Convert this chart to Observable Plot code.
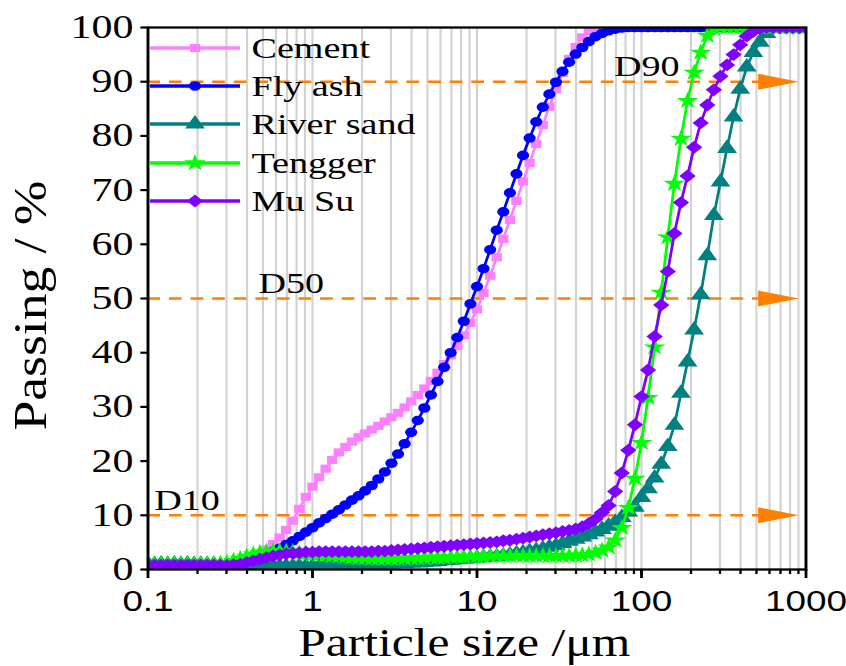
<!DOCTYPE html>
<html>
<head>
<meta charset="utf-8">
<script src="https://cdn.jsdelivr.net/npm/d3@7"></script>
<script src="https://cdn.jsdelivr.net/npm/@observablehq/plot@0.6"></script>
<style>
  html, body { margin: 0; padding: 0; background: #fff; }
  #chart svg { display: block; }
</style>
</head>
<body>
<div id="chart"></div>
<script>
// ---- data (particle size in µm, cumulative passing in %) ----
const sizes = [
  0.1, 0.1096, 0.1202, 0.1318, 0.1445, 0.1585, 0.1738, 0.1905, 0.2089, 0.2291,
  0.2512, 0.2754, 0.302, 0.3311, 0.3631, 0.3981, 0.4365, 0.4786, 0.5248, 0.5754,
  0.631, 0.6918, 0.7586, 0.8318, 0.912, 1, 1.096, 1.202, 1.318, 1.445,
  1.585, 1.738, 1.905, 2.089, 2.291, 2.512, 2.754, 3.02, 3.311, 3.631,
  3.981, 4.365, 4.786, 5.248, 5.754, 6.31, 6.918, 7.586, 8.318, 9.12,
  10, 10.96, 12.02, 13.18, 14.45, 15.85, 17.38, 19.05, 20.89, 22.91,
  25.12, 27.54, 30.2, 33.11, 36.31, 39.81, 43.65, 47.86, 52.48, 57.54,
  63.1, 69.18, 75.86, 83.18, 91.2, 100, 109.6, 120.2, 131.8, 144.5,
  158.5, 173.8, 190.5, 208.9, 229.1, 251.2, 275.4, 302, 331.1, 363.1,
  398.1, 436.5, 478.6, 524.8, 575.4, 631, 691.8, 758.6, 831.8, 912,
  1000
];

const cement = [
  null, null, null, null, null, null, null, null, null, null,
  null, null, null, 0.2, 0.6, 1.1, 1.9, 2.8, 3.7, 4.7,
  5.9, 7.3, 9.0, 11.2, 13.4, 15.3, 17.0, 18.6, 20.2, 21.6,
  22.6, 23.6, 24.4, 25.1, 25.8, 26.5, 27.3, 28.1, 28.9, 29.9,
  31.0, 32.2, 33.4, 34.8, 36.3, 37.9, 39.5, 41.2, 43.2, 45.5,
  48.0, 51.0, 54.2, 57.6, 61.0, 64.5, 68.0, 71.6, 75.0, 78.5,
  82.0, 85.4, 88.6, 91.6, 94.2, 96.4, 98.2, 99.3, 99.8, 100,
  100, 100, 100, 100, 100, 100, 100, 100, 100, 100,
  100, 100, 100, 100, 100, 100, 100, 100, 100, 100,
  100, 100, 100, 100, 100, 100, 100, 100, 100, 100,
  100
];

const flyAsh = [
  null, null, null, null, null, null, null, null, null, null,
  null, 0.1, 0.3, 0.6, 1.0, 1.4, 1.8, 2.3, 2.8, 3.3,
  3.9, 4.6, 5.3, 6.1, 6.9, 7.7, 8.6, 9.4, 10.2, 11.0,
  11.9, 12.8, 13.6, 14.5, 15.5, 16.7, 18.0, 19.6, 21.3, 23.2,
  25.3, 27.5, 29.8, 32.2, 34.7, 37.3, 40.0, 42.8, 45.8, 49.0,
  52.2, 55.5, 59.0, 62.6, 66.0, 69.5, 73.0, 76.4, 79.6, 82.6,
  85.3, 87.7, 89.9, 91.9, 93.6, 95.1, 96.3, 97.4, 98.3, 98.9,
  99.4, 99.7, 99.9, 100, 100, 100, 100, 100, 100, 100,
  100, 100, 100, 100, 100, 100, 100, 100, 100, 100,
  100, 100, 100, 100, 100, 100, 100, 100, 100, 100,
  100
];

const riverSand = [
  1.0, 0.9, 1.0, 0.9, 1.0, 0.9, 1.0, 0.9, 0.9, 0.9,
  0.9, 0.8, 0.8, 0.8, 0.7, 0.7, 0.6, 0.6, 0.6, 0.6,
  0.6, 0.6, 0.6, 0.6, 0.6, 0.6, 0.6, 0.7, 0.7, 0.7,
  0.8, 0.8, 0.8, 0.9, 0.9, 0.9, 1.0, 1.0, 1.1, 1.1,
  1.2, 1.2, 1.3, 1.4, 1.5, 1.6, 1.7, 1.8, 1.9, 2.0,
  2.1, 2.2, 2.3, 2.4, 2.5, 2.7, 2.9, 3.1, 3.3, 3.5,
  3.8, 4.1, 4.4, 4.8, 5.2, 5.6, 6.0, 6.4, 6.9, 7.4,
  8.0, 8.7, 9.6, 10.6, 11.5, 13.3, 14.9, 16.9, 19.4, 22.7,
  26.6, 32.5, 38.3, 44.2, 50.7, 57.9, 65.3, 71.5, 77.7, 83.5,
  88.6, 92.7, 95.4, 97.3, 98.9, 99.9, 100, 100, 100, 100,
  100
];

const tengger = [
  1.0, 1.0, 1.0, 1.0, 1.0, 1.0, 1.0, 1.0, 1.0, 1.0,
  1.0, 1.1, 1.3, 1.6, 2.0, 2.4, 2.8, 3.1, 3.3, 3.4,
  3.4, 3.3, 3.2, 3.0, 2.9, 2.8, 2.7, 2.6, 2.5, 2.4,
  2.3, 2.2, 2.1, 2.1, 2.0, 2.0, 2.0, 2.0, 2.0, 2.0,
  2.1, 2.1, 2.1, 2.2, 2.2, 2.2, 2.3, 2.3, 2.3, 2.4,
  2.4, 2.4, 2.5, 2.5, 2.5, 2.5, 2.5, 2.5, 2.5, 2.5,
  2.5, 2.5, 2.5, 2.5, 2.5, 2.6, 2.6, 2.8, 3.1, 3.5,
  4.1, 5.4, 7.7, 11.4, 16.8, 23.4, 31.7, 41.0, 51.1, 61.3,
  71.2, 79.5, 86.5, 91.7, 95.4, 98.5, 99.8, 100, 100, 100,
  100, 100, 100, 100, 100, 100, 100, 100, 100, 100,
  100
];

const muSu = [
  0.8, 0.8, 0.8, 0.8, 0.8, 0.8, 0.8, 0.8, 0.8, 0.8,
  0.8, 0.8, 0.8, 0.9, 1.0, 1.3, 1.6, 1.9, 2.2, 2.5,
  2.7, 2.9, 3.0, 3.1, 3.2, 3.2, 3.3, 3.3, 3.3, 3.3,
  3.3, 3.3, 3.3, 3.3, 3.3, 3.4, 3.4, 3.5, 3.6, 3.7,
  3.8, 3.9, 4.0, 4.1, 4.2, 4.3, 4.4, 4.5, 4.6, 4.7,
  4.8, 4.9, 5.0, 5.1, 5.3, 5.4, 5.6, 5.8, 6.0, 6.2,
  6.4, 6.6, 6.8, 7.0, 7.2, 7.5, 7.9, 8.5, 9.3, 10.5,
  11.8, 14.4, 17.8, 22.0, 26.7, 31.9, 36.8, 43.0, 48.8, 55.0,
  62.0, 67.7, 72.6, 77.9, 82.4, 85.7, 88.5, 91.0, 93.1, 95.0,
  96.8, 98.4, 99.3, 99.8, 100, 100, 100, 100, 100, 100,
  100
];

const seriesNames = ["Cement", "Fly ash", "River sand", "Tengger", "Mu Su"];
const seriesValues = [cement, flyAsh, riverSand, tengger, muSu];

// axis ticks and annotations
const xTicks = [0.1, 1, 10, 100, 1000];
const xTickLabels = ["0.1", "1", "10", "100", "1000"];
const yTicks = [0, 10, 20, 30, 40, 50, 60, 70, 80, 90, 100];
const decades = [0.1, 1, 10, 100];
const multipliers = [1, 2, 3, 4, 5, 6, 7, 8, 9];
const dLevels = [10, 50, 90];
const dNames = ["D10", "D50", "D90"];
const dLabelX = [0.109, 0.47, 68];
const arrowX = [680, 680, 680];
const xTitle = "Particle size /\u03bcm";
const yTitle = "Passing / %";

// ---- styles ----
const seriesColors = ["#ff80ff", "#0000ff", "#008080", "#00ff00", "#8000ff"];
const seriesSymbols = ["square", "circle", "triangle", "star", "diamond2"];
const d3Symbols = [d3.symbolSquare, d3.symbolCircle, d3.symbolTriangle, d3.symbolStar, d3.symbolDiamond2];
const seriesR = [4.6, 4.8, 5.8, 5.4, 5.8];
const orange = "#ff8000";
const SERIF = "Liberation Serif";
const SANS = "Liberation Sans";

// ---- build table ----
const rows = [];
seriesNames.forEach((name, i) => {
  seriesValues[i].forEach((v, k) => {
    if (v != null) rows.push({series: name, size: sizes[k], passing: v});
  });
});
const gridValues = decades.flatMap(d => multipliers.map(m => +(d * m).toPrecision(3))).filter(v => v > 0.1);
const dRows = dLevels.map((v, i) => ({level: v, name: dNames[i], lx: dLabelX[i], ax: arrowX[i]}));

const arrowHead = {
  draw(context) {
    context.moveTo(-16, -8);
    context.lineTo(16, 0);
    context.lineTo(-16, 8);
    context.closePath();
  }
};

const W = 666, H = 666, DISPLAY_W = 846;

const seriesMarks = seriesNames.flatMap((name, i) => {
  const data = rows.filter(d => d.series === name);
  return [
    Plot.line(data, {x: "size", y: "passing", stroke: seriesColors[i], strokeWidth: 2.2, clip: true}),
    Plot.dot(data, {x: "size", y: "passing", symbol: () => seriesSymbols[i], r: seriesR[i], fill: seriesColors[i], stroke: "none", clip: true})
  ];
});

const chart = Plot.plot({
  width: W,
  height: H,
  marginLeft: 116,
  marginRight: 32,
  marginTop: 27,
  marginBottom: 97,
  x: {type: "log", domain: [0.1, 1000], label: null},
  y: {domain: [0, 100], label: null},
  symbol: {domain: seriesSymbols, range: seriesSymbols},
  style: {fontFamily: SERIF, background: "white", color: "black"},
  marks: [
    Plot.ruleX(gridValues, {stroke: "#d2d2d2", strokeWidth: 1.7}),
    Plot.ruleY(dRows, {y: "level", x1: () => 0.1, x2: () => 540, stroke: orange, strokeWidth: 2.4, strokeDasharray: "10,7"}),
    Plot.dot(dRows, {x: "ax", y: "level", symbol: () => arrowHead, fill: orange, stroke: "none"}),
    Plot.text(dRows, {x: "lx", y: "level", text: "name", textAnchor: "start", dy: -15, fontSize: 30, fontFamily: SERIF, fill: "black"}),
    ...seriesMarks,
    Plot.frame({stroke: "black", strokeWidth: 2.3}),
    Plot.axisX({ticks: gridValues, tickSize: 5, fill: "none", strokeWidth: 1.8, label: null}),
    Plot.axisX({ticks: xTicks, tickSize: 9, tickPadding: 12, strokeWidth: 2.2, label: null,
      tickFormat: d => xTickLabels[xTicks.indexOf(d)], fontSize: 29, fontFamily: SANS, fill: "black"}),
    Plot.axisY({ticks: yTicks, tickSize: 5.5, tickPadding: 6, strokeWidth: 2.2, label: null,
      tickFormat: d => String(d), fontSize: 33, fontFamily: SERIF, fill: "black"}),
    Plot.text([xTitle], {frameAnchor: "bottom", textAnchor: "middle", dx: -10, dy: 86, fontSize: 39, fontFamily: SERIF, fill: "black"}),
    Plot.text([yTitle], {frameAnchor: "left", textAnchor: "middle", rotate: -90, dx: -92, dy: 7, fontSize: 36, fontFamily: SERIF, fill: "black"})
  ]
});

// the y title in the original is drawn elongated along its baseline
d3.select(chart).selectAll("text").filter(function () { return this.textContent === yTitle; })
  .attr("textLength", 250).attr("lengthAdjust", "spacingAndGlyphs");

// legend inside the plot (drawn in chart coordinates)
const legendRowY = [48, 86, 124, 163, 201];
const svgSel = d3.select(chart);
const lg = svgSel.append("g").attr("class", "legend").attr("text-anchor", "start");
seriesNames.forEach((name, i) => {
  const yy = legendRowY[i];
  lg.append("line").attr("x1", 118).attr("x2", 189).attr("y1", yy).attr("y2", yy)
    .attr("stroke", seriesColors[i]).attr("stroke-width", 3.5);
  lg.append("path").attr("transform", `translate(153.5,${yy})`)
    .attr("d", d3.symbol(d3Symbols[i], Math.PI * seriesR[i] * seriesR[i])())
    .attr("fill", seriesColors[i]);
  lg.append("text").attr("x", 198).attr("y", yy + 10).attr("text-anchor", "start").text(name)
    .attr("font-size", 30).attr("font-family", SERIF).attr("fill", "black");
});

// the original figure is horizontally stretched; reproduce by widening the viewBox display
chart.setAttribute("width", DISPLAY_W);
chart.setAttribute("height", H);
chart.setAttribute("preserveAspectRatio", "none");
chart.style.maxWidth = "none";
chart.style.width = DISPLAY_W + "px";
chart.style.height = H + "px";

document.getElementById("chart").appendChild(chart);
</script>
</body>
</html>
